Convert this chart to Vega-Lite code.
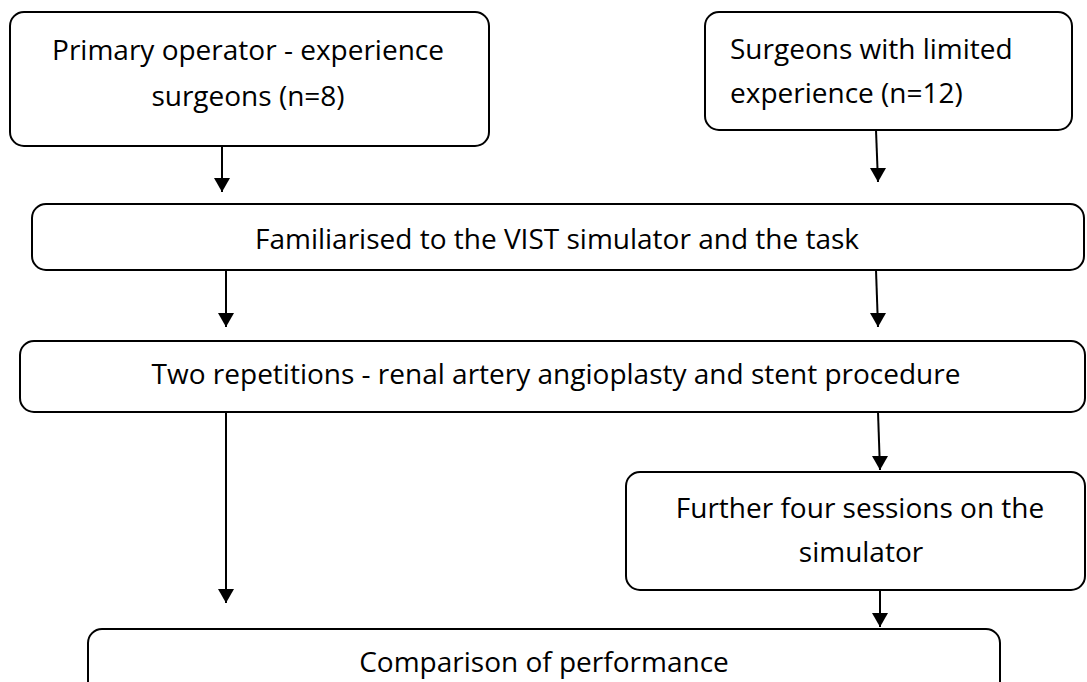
{
  "$schema": "https://vega.github.io/schema/vega-lite/v6.json",
  "width": 1087,
  "height": 682,
  "autosize": {"type": "fit", "contains": "padding"},
  "padding": 0,
  "background": "white",
  "config": {"view": {"stroke": null}},
  "datasets": {
    "boxes": [
      {"box": "A", "x1": 10, "x2": 489, "y1": 12, "y2": 146},
      {"box": "B", "x1": 705, "x2": 1072, "y1": 12, "y2": 130},
      {"box": "C", "x1": 32, "x2": 1084, "y1": 204, "y2": 270},
      {"box": "D", "x1": 20, "x2": 1085, "y1": 341, "y2": 412},
      {"box": "E", "x1": 626, "x2": 1085, "y1": 472, "y2": 590},
      {"box": "F", "x1": 88, "x2": 1000, "y1": 629, "y2": 700}
    ],
    "centerText": [
      {"label": "Primary operator - experience", "tx": 248, "ty": 60},
      {"label": "surgeons (n=8)", "tx": 248, "ty": 106},
      {"label": "Familiarised to the VIST simulator and the task", "tx": 557, "ty": 249},
      {"label": "Two repetitions - renal artery angioplasty and stent procedure", "tx": 556, "ty": 384},
      {"label": "Further four sessions on the", "tx": 860, "ty": 518},
      {"label": "simulator", "tx": 861, "ty": 562},
      {"label": "Comparison of performance", "tx": 544, "ty": 672}
    ],
    "leftText": [
      {"label": "Surgeons with limited", "tx": 730, "ty": 59},
      {"label": "experience (n=12)", "tx": 730, "ty": 103}
    ],
    "arrows": [
      {"ax": 222, "ay": 146, "bx": 222, "by": 192},
      {"ax": 876, "ay": 130, "bx": 878, "by": 182},
      {"ax": 226, "ay": 270, "bx": 226, "by": 327},
      {"ax": 876, "ay": 270, "bx": 878, "by": 327},
      {"ax": 226, "ay": 412, "bx": 226, "by": 603},
      {"ax": 878, "ay": 412, "bx": 880, "by": 470},
      {"ax": 880, "ay": 590, "bx": 880, "by": 627}
    ]
  },
  "layer": [
    {
      "data": {"name": "arrows"},
      "mark": {"type": "rule", "stroke": "black", "strokeWidth": 2},
      "encoding": {
        "x": {"field": "ax", "type": "quantitative", "scale": {"domain": [0, 1087]}, "axis": null},
        "y": {"field": "ay", "type": "quantitative", "scale": {"domain": [682, 0]}, "axis": null},
        "x2": {"field": "bx"},
        "y2": {"field": "by"}
      }
    },
    {
      "data": {"name": "arrows"},
      "mark": {"type": "point", "shape": "M-1,-1.75L0,0L1,-1.75Z", "size": 256, "filled": true, "fill": "black", "stroke": null, "opacity": 1},
      "encoding": {
        "x": {"field": "bx", "type": "quantitative", "scale": {"domain": [0, 1087]}, "axis": null},
        "y": {"field": "by", "type": "quantitative", "scale": {"domain": [682, 0]}, "axis": null}
      }
    },
    {
      "data": {"name": "boxes"},
      "mark": {"type": "rect", "fill": "white", "stroke": "black", "strokeWidth": 2, "cornerRadius": 14, "clip": true},
      "encoding": {
        "x": {"field": "x1", "type": "quantitative", "scale": {"domain": [0, 1087]}, "axis": null},
        "x2": {"field": "x2"},
        "y": {"field": "y1", "type": "quantitative", "scale": {"domain": [682, 0]}, "axis": null},
        "y2": {"field": "y2"}
      }
    },
    {
      "data": {"name": "centerText"},
      "mark": {"type": "text", "align": "center", "baseline": "alphabetic", "font": "Open Sans", "fontSize": 28, "fill": "black"},
      "encoding": {
        "x": {"field": "tx", "type": "quantitative", "scale": {"domain": [0, 1087]}, "axis": null},
        "y": {"field": "ty", "type": "quantitative", "scale": {"domain": [682, 0]}, "axis": null},
        "text": {"field": "label"}
      }
    },
    {
      "data": {"name": "leftText"},
      "mark": {"type": "text", "align": "left", "baseline": "alphabetic", "font": "Open Sans", "fontSize": 28, "fill": "black"},
      "encoding": {
        "x": {"field": "tx", "type": "quantitative", "scale": {"domain": [0, 1087]}, "axis": null},
        "y": {"field": "ty", "type": "quantitative", "scale": {"domain": [682, 0]}, "axis": null},
        "text": {"field": "label"}
      }
    }
  ]
}
